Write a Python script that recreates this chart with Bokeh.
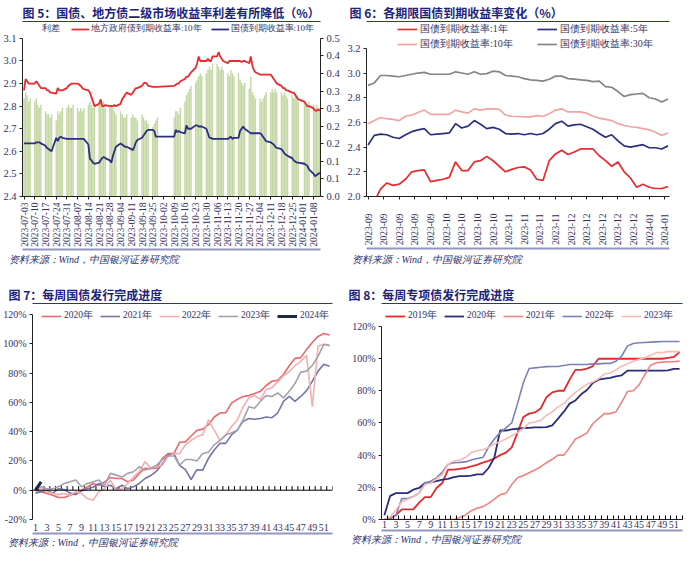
import math
import pandas as pd
from bokeh.plotting import figure
from bokeh.layouts import column, row
from bokeh.models import (Range1d, LinearAxis, FixedTicker, PrintfTickFormatter, Legend,
                          LegendItem, Title, Span)
from bokeh.embed import file_html
from bokeh.resources import INLINE

f5_first_day = "2023-07-03"
f5_last_day = "2024-01-12"
f5_holidays = ["2023-09-29", "2023-10-02", "2023-10-03", "2023-10-04",
               "2023-10-05", "2023-10-06", "2024-01-01"]
f5_tick_labels = ["2023-07-03", "2023-07-10", "2023-07-17", "2023-07-24", "2023-07-31",
                  "2023-08-07", "2023-08-14", "2023-08-21", "2023-08-28", "2023-09-04",
                  "2023-09-11", "2023-09-18", "2023-09-25", "2023-10-02", "2023-10-09",
                  "2023-10-16", "2023-10-23", "2023-10-30", "2023-11-06", "2023-11-13",
                  "2023-11-20", "2023-11-27", "2023-12-04", "2023-12-11", "2023-12-18",
                  "2023-12-25", "2024-01-01", "2024-01-08"]
local_10y = [
    2.87, 2.92, 2.91, 2.90, 2.90, 2.90, 2.91, 2.90, 2.89, 2.88,
    2.88, 2.87, 2.87, 2.86, 2.86, 2.855, 2.88, 2.87, 2.87, 2.87,
    2.88, 2.89, 2.895, 2.90, 2.90, 2.90, 2.895, 2.89, 2.88, 2.875,
    2.87, 2.86, 2.84, 2.82, 2.80, 2.81, 2.83, 2.80, 2.80, 2.805,
    2.80, 2.80, 2.80, 2.805, 2.80, 2.81, 2.83, 2.84, 2.85, 2.86,
    2.85, 2.86, 2.87, 2.88, 2.88, 2.89, 2.90, 2.905, 2.90, 2.89,
    2.885, 2.885, 2.885, 2.885,
    2.89, 2.895, 2.90, 2.90, 2.91, 2.92, 2.93, 2.93, 2.94, 2.95,
    2.97, 2.99, 3.02, 3.00, 3.00, 3.00, 3.01, 3.00, 3.00, 3.02,
    3.02, 3.04, 3.02, 3.01, 3.00, 2.99, 3.00, 3.00, 3.00, 3.00,
    3.00, 3.00, 2.995, 3.00, 3.00, 2.99, 3.02, 2.98, 2.96, 2.95,
    2.94, 2.94, 2.94, 2.94, 2.94, 2.94, 2.93, 2.92, 2.91, 2.90,
    2.89, 2.88, 2.88, 2.87, 2.87, 2.86, 2.86, 2.85, 2.84, 2.83,
    2.82, 2.81, 2.80, 2.80,
    2.79, 2.78, 2.78, 2.785, 2.78,
]
gov_10y = [
    2.635, 2.635, 2.635, 2.635, 2.635, 2.635, 2.64, 2.64, 2.64, 2.635,
    2.625, 2.615, 2.61, 2.605, 2.60, 2.66, 2.645, 2.66, 2.665, 2.66,
    2.655, 2.655, 2.655, 2.655, 2.655, 2.655, 2.655, 2.655, 2.655, 2.655,
    2.63, 2.567, 2.56, 2.55, 2.545, 2.55, 2.56, 2.57, 2.575, 2.57,
    2.56, 2.55, 2.58, 2.60, 2.62, 2.635, 2.63, 2.625, 2.62, 2.62,
    2.61, 2.605, 2.62, 2.64, 2.65, 2.66, 2.67, 2.68, 2.69, 2.695,
    2.695, 2.69, 2.665, 2.665,
    2.665, 2.695, 2.685, 2.69, 2.685, 2.68, 2.715, 2.70, 2.70, 2.70,
    2.715, 2.715, 2.71, 2.71, 2.71, 2.70, 2.68, 2.66, 2.66, 2.655,
    2.655, 2.655, 2.655, 2.655, 2.655, 2.655, 2.66, 2.665, 2.655, 2.66,
    2.66, 2.69, 2.70, 2.71, 2.70, 2.685, 2.68, 2.68, 2.68, 2.68,
    2.68, 2.675, 2.665, 2.655, 2.645, 2.64, 2.635, 2.63, 2.62, 2.615,
    2.61, 2.60, 2.59, 2.585, 2.58, 2.57, 2.56, 2.555, 2.55, 2.55,
    2.545, 2.54, 2.535, 2.52,
    2.50, 2.49, 2.495, 2.50, 2.505,
]
spread = [
    0.31, 0.33, 0.32, 0.30, 0.31, 0.30, 0.31, 0.29, 0.28, 0.29,
    0.27, 0.26, 0.26, 0.25, 0.26, 0.24, 0.27, 0.26, 0.27, 0.28,
    0.28, 0.29, 0.28, 0.28, 0.29, 0.28, 0.27, 0.28, 0.27, 0.28,
    0.29, 0.30, 0.29, 0.28, 0.29, 0.29, 0.30, 0.29, 0.30, 0.28,
    0.29, 0.29, 0.28, 0.27, 0.26, 0.27, 0.26, 0.25, 0.25, 0.26,
    0.25, 0.26, 0.25, 0.25, 0.24, 0.26, 0.25, 0.24, 0.24, 0.23,
    0.22, 0.23, 0.24, 0.25,
    0.25, 0.27, 0.27, 0.26, 0.28, 0.30, 0.32, 0.33, 0.34, 0.35,
    0.36, 0.37, 0.38, 0.39, 0.38, 0.39, 0.40, 0.41, 0.40, 0.42,
    0.42, 0.41, 0.40, 0.41, 0.40, 0.39, 0.38, 0.40, 0.39, 0.38,
    0.39, 0.37, 0.36, 0.35, 0.36, 0.34, 0.38, 0.33, 0.32, 0.31,
    0.31, 0.30, 0.31, 0.32, 0.33, 0.33, 0.34, 0.33, 0.34, 0.33,
    0.33, 0.32, 0.33, 0.32, 0.31, 0.32, 0.31, 0.32, 0.31, 0.30,
    0.30, 0.29, 0.29, 0.30,
    0.29, 0.28, 0.29, 0.28, 0.28,
]
f5_left_ticks = [2.4, 2.5, 2.6, 2.7, 2.8, 2.9, 3.0, 3.1]
f5_right_ticks = [0.0, 0.0556, 0.1111, 0.1667, 0.2222, 0.2778, 0.3333, 0.3889, 0.4444, 0.5]

f6_index = [0, 2, 4, 6, 8, 10, 12, 14, 16, 18, 20, 22, 24, 26, 28, 30, 32, 34, 36, 38,
            40, 42, 44, 46, 48, 50, 52, 54, 56, 58, 60, 62, 64, 66, 68, 70, 72, 74, 76, 78,
            80, 82, 84, 86, 88, 90, 92, 94, 96]
yield_1y = [1.95, 1.96, 2.06, 2.11, 2.09, 2.10, 2.14, 2.20, 2.21, 2.215, 2.12, 2.13, 2.14,
            2.155, 2.28, 2.21, 2.21, 2.28, 2.29, 2.325, 2.29, 2.245, 2.20, 2.22, 2.235, 2.24,
            2.215, 2.14, 2.13, 2.29, 2.345, 2.375, 2.34, 2.36, 2.385, 2.385, 2.385, 2.33, 2.29,
            2.245, 2.28, 2.20, 2.15, 2.075, 2.10, 2.075, 2.065, 2.065, 2.08]
yield_5y = [2.417, 2.495, 2.505, 2.50, 2.48, 2.47, 2.50, 2.525, 2.54, 2.55, 2.50, 2.505, 2.51,
            2.515, 2.59, 2.555, 2.57, 2.615, 2.585, 2.55, 2.56, 2.545, 2.51, 2.505, 2.51, 2.50,
            2.51, 2.50, 2.51, 2.545, 2.59, 2.61, 2.57, 2.58, 2.585, 2.565, 2.545, 2.51, 2.48,
            2.50, 2.45, 2.41, 2.40, 2.41, 2.42, 2.395, 2.395, 2.385, 2.41]
yield_10y = [2.59, 2.615, 2.64, 2.63, 2.625, 2.615, 2.65, 2.66, 2.68, 2.70, 2.665, 2.665, 2.665,
             2.665, 2.70, 2.685, 2.675, 2.71, 2.70, 2.71, 2.71, 2.705, 2.66, 2.65, 2.648, 2.645,
             2.645, 2.655, 2.65, 2.67, 2.70, 2.71, 2.685, 2.685, 2.685, 2.675, 2.65, 2.635,
             2.625, 2.615, 2.59, 2.575, 2.565, 2.56, 2.55, 2.54, 2.52, 2.495, 2.515]
yield_30y = [2.90, 2.92, 2.98, 2.98, 2.975, 2.97, 2.98, 2.99, 3.00, 3.005, 2.99, 2.99, 2.99,
             2.99, 3.01, 3.00, 2.99, 3.01, 2.99, 2.995, 3.015, 3.01, 2.98, 2.975, 2.97, 2.955,
             2.945, 2.94, 2.935, 2.95, 2.975, 2.975, 2.955, 2.95, 2.945, 2.94, 2.93, 2.935,
             2.89, 2.885, 2.85, 2.81, 2.825, 2.83, 2.835, 2.80, 2.79, 2.765, 2.79]
f6_tick_pos = [0, 5, 10, 15, 20, 25, 30, 35, 40, 45, 50, 55, 60, 65, 70, 75, 80, 85, 90, 95]
f6_tick_labels = ["2023-09", "2023-09", "2023-09", "2023-09", "2023-09",
                  "2023-10", "2023-10", "2023-10", "2023-10",
                  "2023-11", "2023-11", "2023-11", "2023-11",
                  "2023-12", "2023-12", "2023-12", "2023-12", "2023-12",
                  "2024-01", "2024-01"]
f6_y_ticks = [2.0, 2.2, 2.4, 2.6, 2.8, 3.0, 3.2]

weeks = list(range(1, 53))
tg_2020 = [0, -1, -2.3, -3.4, -5, -5, -3.4, -2.3, 0, 2.3, 4.6, 3.4, 5.7, 8.7, 8, 8, 5.7, 7,
           11.5, 15, 14.6, 15, 21.8, 25, 25, 32.7, 33, 37, 40.8, 41.7, 44.7, 50, 52.7, 53,
           59.5, 62, 64, 64.6, 66, 67.5, 71.5, 74.4, 75, 79, 85, 90, 90.5, 96, 100.8, 105,
           107, 106]
tg_2021 = [-2, -1, 0, -2, 1, 0.5, -2, -3, -0.5, 1, 2, 4.6, 2.3, 3.4, 1, 3.4, 1, 2.3, 4.6, 8,
           10, 13, 18, 24, 25, 17, 14, 7.3, 14, 13.7, 21.8, 27.5, 32, 32, 37.8, 41, 47, 49,
           48.5, 49, 50, 49.5, 52.7, 60.7, 64, 60.7, 64, 68, 74.4, 81.3, 86, 84.7]
tg_2022 = [2.3, 1, -1, -2.3, -3, -2.3, -3.4, -1, -2.3, -5.7, -6.9, -1, 1, 6.9, 0, 1, 4.6, 9,
           12.6, 19.5, 15, 16, 17, 23, 25, 25, 31, 34, 36.6, 37.8, 48, 41, 34, 37.8, 43.5, 48,
           57, 63, 64.6, 62, 68.7, 70, 74, 78, 81, 85, 88, 92, 57, 98.5, 99.6, 98.5]
tg_2023 = [1, 2.3, 1, 1, 2.3, 4.6, 5.7, 6.9, 2.3, 4.6, 5.7, 6.9, 3.4, 11.5, 10.3, 9, 11.5,
           12.6, 16, 13.7, 15, 17, 21, 23.4, 23.4, 17, 21, 21, 20, 25, 26, 31, 34, 37.8, 39,
           41, 48, 57, 56, 60.7, 64.6, 64, 66.4, 63, 67.5, 72.8, 80.6, 81.3, 85.2, 91.6, 99.6,
           99]
tg_2024_weeks = [1, 2]
tg_2024 = [0, 5.7]
f7_y_ticks = [-20, 0, 20, 40, 60, 80, 100, 120]

sb_2019 = [0, 0.6, 2.7, 6.3, 6.3, 6.3, 10.5, 13.9, 13.9, 19.6, 22.7, 31, 31, 31.5, 32, 33, 34,
           35.3, 36.4, 37.9, 40, 41.6, 44.8, 54, 63.7, 65.8, 66.5, 69, 76, 79, 80, 80, 86.9, 93,
           93, 93.8, 95.3, 99.9, 99.9, 99.9, 99.9, 99.9, 99.9, 99.9, 99.9, 99.9, 99.9, 99.9,
           99.9, 100.5, 101, 104]
sb_2020 = [2.7, 14.7, 16.4, 16.4, 16.4, 18.5, 19.6, 22.7, 23, 23.8, 24.8, 25.2, 26.3, 27, 27,
           27.3, 28, 28, 32, 38.5, 55.3, 55.3, 56, 56.4, 56.8, 57, 57.2, 57.2, 57.4, 58.5, 62.7,
           67, 72, 74, 77.8, 80.5, 84.8, 86.9, 87.5, 88, 89, 89.6, 92.5, 92.5, 92.5, 92.5, 92.5,
           92.5, 92.5, 92.7, 93.6, 93.6]
sb_2021 = [0, 0, 0, 0, 0, 0, 0, 0, 0, 0, 0, 0, 0, 1.3, 2.7, 5.5, 7, 8, 10, 12.6, 15.4, 16.4,
           21.7, 25.9, 27.3, 29, 30.7, 32.8, 35.3, 37.4, 40, 40, 44.8, 50, 51.7, 53.8, 59.5,
           62.7, 65.8, 65.8, 66.9, 73, 79.5, 80, 83.7, 90, 95.9, 97.4, 97.8, 98, 98, 98.4]
sb_2022 = [0, 0.6, 2.7, 13, 13, 14.3, 16.4, 22.7, 23.8, 25.9, 29.4, 34.3, 35.3, 35.5, 35.8, 37,
           37.9, 38.5, 45, 50, 54, 57, 60, 72, 85, 93.8, 94.2, 94.6, 95, 95.1, 95.1, 95.7, 96.3,
           96.3, 96.3, 96.3, 96.7, 96.7, 97, 97, 98.4, 101.6, 107.9, 109.4, 109.8, 110, 110.2,
           110.4, 110.6, 110.6, 110.6, 110.6]
sb_2023 = [0, 1.7, 5.9, 11, 12.6, 14.3, 16.4, 21.7, 22.7, 25.2, 28, 34.3, 36.4, 37, 38.5, 41.6,
           42.7, 43.3, 44.8, 46.9, 48.4, 50, 52, 54, 56.4, 60, 60.6, 61.6, 64.8, 66.9, 70, 72,
           75.7, 79, 81.6, 84, 85.4, 87.5, 90.4, 91, 93, 95.3, 96.7, 98.4, 99.5, 100.5, 102,
           103.7, 103.7, 104.3, 104.3, 104.3]
f8_y_ticks = [0, 20, 40, 60, 80, 100, 120]

week_labels = [w for w in weeks if w % 2 == 1]
week_edges = [w - 0.5 for w in weeks] + [weeks[-1] + 0.5]

SOURCE = "资料来源：Wind，中国银河证券研究院"

SERIF = "Liberation Serif"
CJK = "Noto Sans CJK SC"
TXT = "#33335f"
TITLE_C = "#1c237a"
SRC_C = "#2a2f6e"
AX = "#222222"
RULE_TOP = "#2d3290"
RULE_BOT = "#9496c2"
W = 342
TOP_H = 282
BOT_H = 271
TITLE_B = 20


def extend(lo, hi, data_px, extra_px):
    """Range whose [lo, hi] part spans data_px pixels, plus extra_px of legend room on top."""
    return Range1d(lo, hi + (hi - lo) * extra_px / data_px)


_t0 = pd.Timestamp(f5_first_day)
f5_dates = [d for d in pd.bdate_range(f5_first_day, f5_last_day)
            if d.strftime("%Y-%m-%d") not in f5_holidays]
f5_x = [(d - _t0).days for d in f5_dates]
f5_tick_x = [(pd.Timestamp(s) - _t0).days for s in f5_tick_labels]


def rule_axis(color, width):
    return LinearAxis(ticker=FixedTicker(ticks=[]), axis_line_color=color, axis_line_width=width,
                      major_tick_in=0, major_tick_out=0, minor_tick_in=0, minor_tick_out=0,
                      major_label_standoff=0, major_label_text_font_size="0px")


def style_axis(ax, size="10px"):
    ax.axis_line_color = AX
    ax.major_tick_line_color = AX
    ax.major_tick_in = 0
    ax.major_tick_out = 3
    ax.minor_tick_line_color = None
    ax.major_label_text_font = SERIF
    ax.major_label_text_font_size = size
    ax.major_label_text_color = TXT
    ax.major_label_standoff = 3


def base(height, xr, yr, left, right, bottom, title, title_offset, xsize, ysize):
    p = figure(width=W, height=height, x_range=xr, y_range=yr, title=title,
               output_backend="svg", toolbar_location=None,
               min_border_left=left, min_border_right=right,
               min_border_top=TITLE_B, min_border_bottom=bottom)
    p.xgrid.visible = False
    p.ygrid.visible = False
    p.outline_line_color = None
    p.title.text_font = CJK
    p.title.text_font_style = "bold"
    p.title.text_font_size = "12px"
    p.title.text_color = TITLE_C
    p.title.standoff = 2
    p.title.offset = title_offset
    xa = p.below[0]
    ya = p.left[0]
    style_axis(xa, xsize)
    style_axis(ya, ysize)
    p.add_layout(rule_axis(RULE_TOP, 1), "above")
    return p, xa, ya


def source(p, standoff, offset):
    p.add_layout(rule_axis(RULE_BOT, 2), "below")
    t = Title(text=SOURCE, align="left", text_font=SERIF, offset=offset,
              text_font_style="italic", text_font_size="10px", text_color=SRC_C,
              standoff=standoff)
    p.add_layout(t, "below")


def legend(items, loc, **kw):
    opts = dict(orientation="horizontal", label_text_font=SERIF, label_text_font_size="9.5px",
                label_text_color=TXT, glyph_width=20, glyph_height=12, label_height=12,
                label_standoff=3, spacing=7, padding=0, margin=0, border_line_color=None,
                background_fill_alpha=0, location=loc)
    opts.update(kw)
    return Legend(items=items, **opts)


ROW1_BOTTOM = TOP_H - 196

# ---- Figure 5 ----
D5, E5 = 159, 17
p5, xa5, ya5 = base(TOP_H, Range1d(-1, 193.5), extend(2.4, 3.1, D5, E5), 20, 22, ROW1_BOTTOM,
                    "图 5：国债、地方债二级市场收益率利差有所降低（%）", 0, "9.5px", "10.5px")
p5.extra_y_ranges = {"spread": extend(0, 0.5, D5, E5)}
p5.vbar(x=f5_x, top=spread, width=0.9, y_range_name="spread",
        fill_color="#a3c272", fill_alpha=0.65, line_color=None)
r_loc = p5.line(f5_x, local_10y, line_color="#ea2a2f", line_width=1.8)
r_gov = p5.line(f5_x, gov_10y, line_color="#2b2e7e", line_width=1.8)
r_sp = p5.line([], [], line_color="#9bbb59", line_width=5)
ya5.ticker = FixedTicker(ticks=f5_left_ticks)
ya5.formatter = PrintfTickFormatter(format="%.1f")
ya5.bounds = (2.4, 3.1)
ax_r = LinearAxis(y_range_name="spread", ticker=FixedTicker(ticks=f5_right_ticks),
                  formatter=PrintfTickFormatter(format="%.1f"), bounds=(0, 0.5))
style_axis(ax_r, "10.5px")
p5.add_layout(ax_r, "right")
xa5.ticker = FixedTicker(ticks=f5_tick_x)
xa5.major_label_overrides = {x: s for x, s in zip(f5_tick_x, f5_tick_labels)}
xa5.major_label_orientation = math.pi / 2
p5.add_layout(legend([LegendItem(label="利差", renderers=[r_sp]),
                      LegendItem(label="地方政府债到期收益率:10年", renderers=[r_loc]),
                      LegendItem(label="国债到期收益率:10年", renderers=[r_gov])],
                     (0, D5 + E5 - 15), glyph_width=18, label_standoff=2, spacing=9,
                     label_text_font_size="9px"))
source(p5, 5, -14)

# ---- Figure 6 ----
D6, E6 = 149, 27
p6, xa6, ya6 = base(TOP_H, Range1d(-0.5, 96.5), extend(2.0, 3.2, D6, E6), 24, 15, ROW1_BOTTOM,
                    "图 6：各期限国债到期收益率变化（%）", -17, "9.5px", "10.5px")
r1 = p6.line(f6_index, yield_1y, line_color="#ea2a2f", line_width=1.7)
r5 = p6.line(f6_index, yield_5y, line_color="#2b2e7e", line_width=1.7)
r10 = p6.line(f6_index, yield_10y, line_color="#f2a3a3", line_width=1.7)
r30 = p6.line(f6_index, yield_30y, line_color="#858585", line_width=1.7)
ya6.ticker = FixedTicker(ticks=f6_y_ticks)
ya6.formatter = PrintfTickFormatter(format="%.1f")
ya6.bounds = (2.0, 3.2)
xa6.ticker = FixedTicker(ticks=f6_tick_pos)
xa6.major_label_overrides = {x: s for x, s in zip(f6_tick_pos, f6_tick_labels)}
xa6.major_label_orientation = math.pi / 2
xa6.major_label_standoff = 14
p6.add_layout(legend([LegendItem(label="国债到期收益率:1年", renderers=[r1]),
                      LegendItem(label="国债到期收益率:5年", renderers=[r5]),
                      LegendItem(label="国债到期收益率:10年", renderers=[r10]),
                      LegendItem(label="国债到期收益率:30年", renderers=[r30])],
                     (31, D6 + E6 - 31), ncols=2, spacing=1, label_width=116,
                     label_text_font_size="10px"))
source(p6, 7, -15)

ROW2_BOTTOM = BOT_H - 237

# ---- Figure 7 ----
D7, E7 = 206, 11
p7, xa7, ya7 = base(BOT_H, Range1d(0.5, 52.5), extend(-20, 120, D7, E7), 30, 10, ROW2_BOTTOM,
                    "图 7：每周国债发行完成进度", -24, "10px", "10px")
p7.add_layout(Span(location=0, dimension="width", line_color="black", line_width=1))
p7.segment(x0=week_edges, y0=[0] * len(week_edges), x1=week_edges, y1=[2.8] * len(week_edges),
           line_color="black", line_width=1)
q20 = p7.line(weeks, tg_2020, line_color="#e8696e", line_width=1.6)
q21 = p7.line(weeks, tg_2021, line_color="#7476aa", line_width=1.6)
q22 = p7.line(weeks, tg_2022, line_color="#f6aeb0", line_width=1.6)
q23 = p7.line(weeks, tg_2023, line_color="#a3a3af", line_width=1.6)
q24 = p7.line(tg_2024_weeks, tg_2024, line_color="#1b2850", line_width=3)
ya7.ticker = FixedTicker(ticks=f7_y_ticks)
ya7.formatter = PrintfTickFormatter(format="%d%%")
ya7.bounds = (-20, 120)
xa7.axis_line_color = None
xa7.major_tick_line_color = None
xa7.ticker = FixedTicker(ticks=week_labels)
xa7.major_label_standoff = 1
p7.add_layout(legend([LegendItem(label="2020年", renderers=[q20]),
                      LegendItem(label="2021年", renderers=[q21]),
                      LegendItem(label="2022年", renderers=[q22]),
                      LegendItem(label="2023年", renderers=[q23]),
                      LegendItem(label="2024年", renderers=[q24])],
                     (9, D7 + E7 - 20)))
source(p7, 3, -25)

# ---- Figure 8 ----
D8, E8 = 194, 23
p8, xa8, ya8 = base(BOT_H, Range1d(0.5, 52.5), extend(0, 120, D8, E8), 39, 2, ROW2_BOTTOM,
                    "图 8：每周专项债发行完成进度", -33, "10px", "10px")
s19 = p8.line(weeks, sb_2019, line_color="#e52a2e", line_width=1.8)
s20 = p8.line(weeks, sb_2020, line_color="#2b2c7c", line_width=1.8)
s21 = p8.line(weeks, sb_2021, line_color="#ef8383", line_width=1.6)
s22 = p8.line(weeks, sb_2022, line_color="#7d80b8", line_width=1.6)
s23 = p8.line(weeks, sb_2023, line_color="#f6bab5", line_width=1.6)
ya8.ticker = FixedTicker(ticks=f8_y_ticks)
ya8.formatter = PrintfTickFormatter(format="%d%%")
ya8.bounds = (0, 120)
xa8.ticker = FixedTicker(ticks=week_labels, minor_ticks=week_edges)
xa8.major_tick_out = 0
xa8.minor_tick_line_color = "black"
xa8.minor_tick_in = 4
xa8.minor_tick_out = 0
xa8.major_label_standoff = 1
p8.add_layout(legend([LegendItem(label="2019年", renderers=[s19]),
                      LegendItem(label="2020年", renderers=[s20]),
                      LegendItem(label="2021年", renderers=[s21]),
                      LegendItem(label="2022年", renderers=[s22]),
                      LegendItem(label="2023年", renderers=[s23])],
                     (4, D8 + E8 - 20)))
source(p8, 3, -31)

layout = column(row(p5, p6), row(p7, p8))
open("out.html", "w").write(file_html(layout, INLINE))
